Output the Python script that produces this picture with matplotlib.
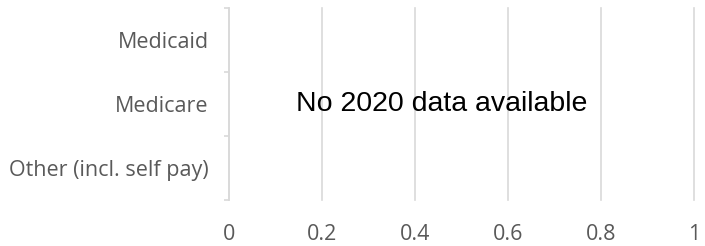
import numpy as np
import matplotlib
matplotlib.use('Agg')
import matplotlib.pyplot as plt

# Kategori dan nilai (tidak ada data 2020)
categories = ['Other (incl. self pay)', 'Medicare', 'Medicaid']
values = [np.nan, np.nan, np.nan]
x_ticks = [0, 0.2, 0.4, 0.6, 0.8, 1]
x_labels = ['0', '0.2', '0.4', '0.6', '0.8', '1']
note = 'No 2020 data available'

grid_color = '#d9d9d9'
label_color = '#595959'

fig = plt.figure(figsize=(7.05, 2.46), dpi=100)
ax = fig.add_axes([0.3248, 0.187, 0.6596, 0.7805])

ypos = np.arange(len(categories))
ax.barh(ypos, values, height=0.6, color='#4472c4')

ax.set_xlim(0, 1)
ax.set_ylim(-0.5, len(categories) - 0.5)
ax.set_xticks(x_ticks)
ax.set_xticklabels(x_labels)
ax.set_yticks(ypos)
ax.set_yticklabels(categories)
ax.set_yticks(np.arange(len(categories) + 1) - 0.5, minor=True)

# Garis grid vertikal
ax.grid(axis='x', color=grid_color, linewidth=1.2)
ax.set_axisbelow(True)
for gl in ax.get_xgridlines():
    gl.set_clip_on(False)

for s in ['top', 'right', 'bottom']:
    ax.spines[s].set_visible(False)
ax.spines['left'].set_color(grid_color)
ax.spines['left'].set_linewidth(1.2)

ax.tick_params(axis='x', length=0, pad=17.5, labelsize=15.5, labelcolor=label_color)
ax.tick_params(axis='y', which='major', length=0, pad=14.5, labelsize=15.5, labelcolor=label_color)
ax.tick_params(axis='y', which='minor', length=3.5, width=1.2, color=grid_color)
for lbl in ax.get_xticklabels() + ax.get_yticklabels():
    lbl.set_family('Open Sans')

ax.text(0.458, 0.5, note, transform=ax.transAxes, ha='center', va='center',
        fontsize=20.5, family='Liberation Sans', color='black')

fig.savefig('out.png', dpi=100)
